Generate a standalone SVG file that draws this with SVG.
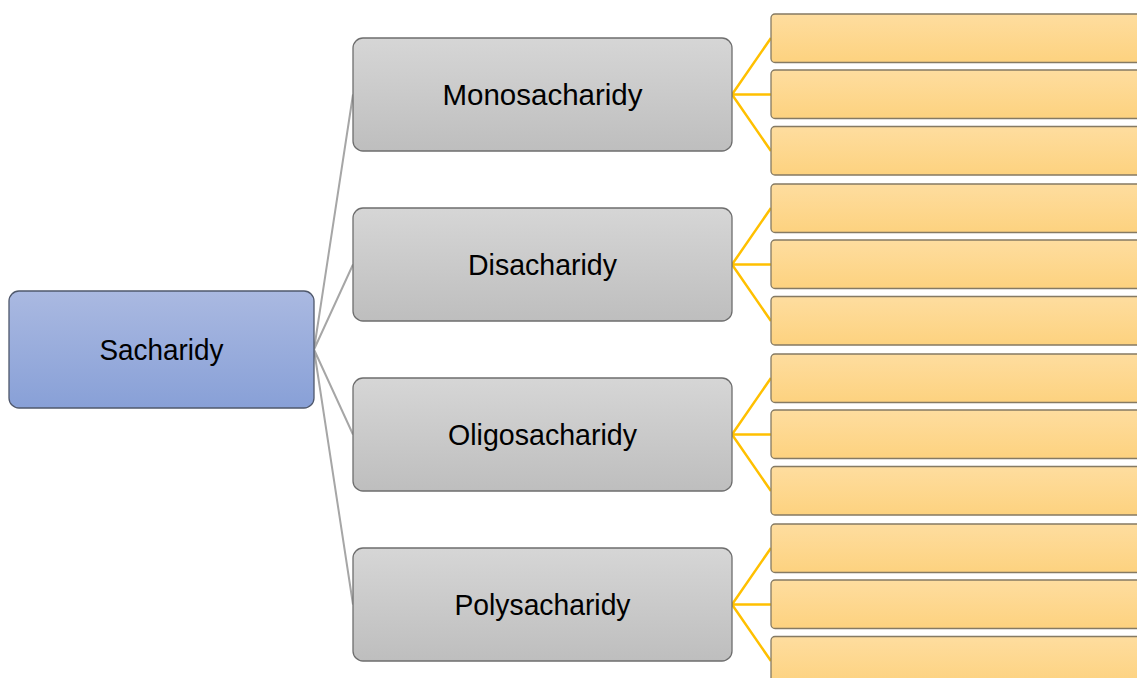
<svg xmlns="http://www.w3.org/2000/svg" width="1137" height="678" viewBox="0 0 1137 678">
<defs>
<linearGradient id="gRoot" x1="0" y1="0" x2="0" y2="1">
<stop offset="0" stop-color="#aab9e1"/>
<stop offset="1" stop-color="#88a0d7"/>
</linearGradient>
<linearGradient id="gGray" x1="0" y1="0" x2="0" y2="1">
<stop offset="0" stop-color="#d6d6d6"/>
<stop offset="1" stop-color="#bebebe"/>
</linearGradient>
<linearGradient id="gYel" x1="0" y1="0" x2="0" y2="1">
<stop offset="0" stop-color="#fedd9f"/>
<stop offset="1" stop-color="#fdd27f"/>
</linearGradient>
</defs>
<style>
.root{fill:url(#gRoot);stroke:#4f586c;stroke-width:1.3}
.mid{fill:url(#gGray);stroke:#6e6e6e;stroke-width:1.3}
.leaf{fill:url(#gYel);stroke:#857a63;stroke-width:1.3}
.lbl{font-family:"Liberation Sans",Arial,sans-serif;font-size:29.5px;fill:#000;text-anchor:middle}
.cg{stroke:#a6a6a6;stroke-width:2;fill:none}
.cy{stroke:#ffc000;stroke-width:2.5;fill:none}
</style>
<rect width="1137" height="678" fill="#ffffff"/>
<g id="connectors">
<path class="cg" d="M314 349.5 L353 94.5 M314 349.5 L353 264.5 M314 349.5 L353 434.5 M314 349.5 L353 604.5"/>
<path class="cy" d="M732 94.5 L771 38 M732 94.5 L771 94.5 M732 94.5 L771 151"/>
<path class="cy" d="M732 264.5 L771 208 M732 264.5 L771 264.5 M732 264.5 L771 321"/>
<path class="cy" d="M732 434.5 L771 378 M732 434.5 L771 434.5 M732 434.5 L771 491"/>
<path class="cy" d="M732 604.5 L771 548 M732 604.5 L771 604.5 M732 604.5 L771 661"/>
</g>
<g id="root">
<rect class="root" x="9" y="291" width="305" height="117" rx="10"/>
<text class="lbl" x="161.5" y="360" textLength="124" lengthAdjust="spacingAndGlyphs">Sacharidy</text>
</g>
<g id="mono">
<rect class="mid" x="353" y="38" width="379" height="113" rx="10"/>
<text class="lbl" x="542.5" y="105" textLength="200" lengthAdjust="spacingAndGlyphs">Monosacharidy</text>
</g>
<g id="di">
<rect class="mid" x="353" y="208" width="379" height="113" rx="10"/>
<text class="lbl" x="542.5" y="275" textLength="149" lengthAdjust="spacingAndGlyphs">Disacharidy</text>
</g>
<g id="oligo">
<rect class="mid" x="353" y="378" width="379" height="113" rx="10"/>
<text class="lbl" x="542.5" y="445" textLength="189" lengthAdjust="spacingAndGlyphs">Oligosacharidy</text>
</g>
<g id="poly">
<rect class="mid" x="353" y="548" width="379" height="113" rx="10"/>
<text class="lbl" x="542.5" y="615" textLength="176" lengthAdjust="spacingAndGlyphs">Polysacharidy</text>
</g>
<g id="mono-1"><rect class="leaf" x="771" y="14" width="380" height="48.5" rx="4"/></g>
<g id="mono-2"><rect class="leaf" x="771" y="70" width="380" height="48.5" rx="4"/></g>
<g id="mono-3"><rect class="leaf" x="771" y="126.5" width="380" height="48.5" rx="4"/></g>
<g id="di-1"><rect class="leaf" x="771" y="184" width="380" height="48.5" rx="4"/></g>
<g id="di-2"><rect class="leaf" x="771" y="240" width="380" height="48.5" rx="4"/></g>
<g id="di-3"><rect class="leaf" x="771" y="296.5" width="380" height="48.5" rx="4"/></g>
<g id="oligo-1"><rect class="leaf" x="771" y="354" width="380" height="48.5" rx="4"/></g>
<g id="oligo-2"><rect class="leaf" x="771" y="410" width="380" height="48.5" rx="4"/></g>
<g id="oligo-3"><rect class="leaf" x="771" y="466.5" width="380" height="48.5" rx="4"/></g>
<g id="poly-1"><rect class="leaf" x="771" y="524" width="380" height="48.5" rx="4"/></g>
<g id="poly-2"><rect class="leaf" x="771" y="580" width="380" height="48.5" rx="4"/></g>
<g id="poly-3"><rect class="leaf" x="771" y="636.5" width="380" height="48.5" rx="4"/></g>
</svg>
